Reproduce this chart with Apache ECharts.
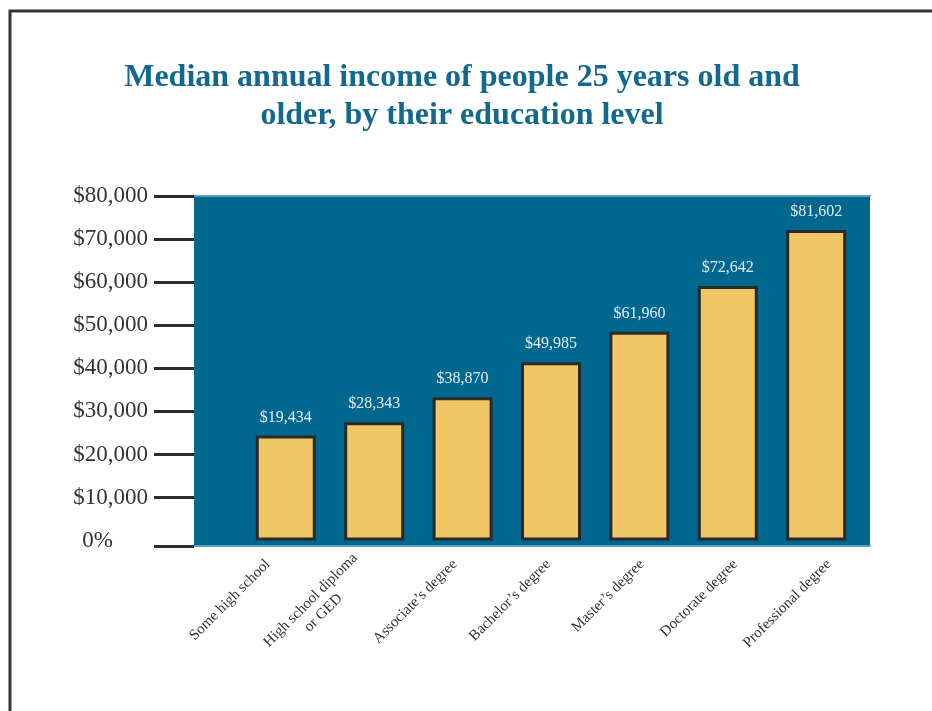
<!DOCTYPE html>
<html>
<head>
<meta charset="utf-8">
<script src="https://cdn.jsdelivr.net/npm/echarts@6/dist/echarts.min.js"></script>
<style>
html,body{margin:0;padding:0;background:#fff;}
#chart{width:932px;height:711px;}
</style>
</head>
<body>
<div id="chart"></div>
<script>
// ---- data ----
const categories = ['Some high school', 'High school diploma\nor GED', 'Associate’s degree', 'Bachelor’s degree', 'Master’s degree', 'Doctorate degree', 'Professional degree'];
// printed median incomes (labels above bars)
const medianIncome = [19434, 28343, 38870, 49985, 61960, 72642, 81602];
// bar heights as drawn against the axis of the picture
const barHeights = [24400, 27500, 33300, 41400, 48500, 59100, 72100];
// y-axis ticks (bottom tick is the "0%" baseline)
const yTickValues = [-1250, 10000, 20000, 30000, 40000, 50000, 60000, 70000, 80000];
const yTickLabels = ['0%', '$10,000', '$20,000', '$30,000', '$40,000', '$50,000', '$60,000', '$70,000', '$80,000'];
const yMin = -1250, yMax = 80000;

const serif = '"Liberation Serif", "Times New Roman", serif';
const fmtMoney = v => '$' + v.toLocaleString('en-US');

const chart = echarts.init(document.getElementById('chart'), null, {renderer: 'canvas'});
const gridTop = 196, gridH = 350;

chart.setOption({
  backgroundColor: '#ffffff',
  animation: false,
  title: {
    text: 'Median annual income of people 25 years old and\nolder, by their education level',
    left: 462,
    textAlign: 'center',
    top: 59,
    padding: 0,
    textStyle: {fontFamily: serif, fontWeight: 'bold', fontSize: 32, color: '#13698d', lineHeight: 38}
  },
  graphic: [{
    type: 'rect', silent: true,
    shape: {x: 10, y: 11, width: 1000, height: 800},
    style: {fill: 'none', stroke: '#333333', lineWidth: 3}
  }],
  grid: [
    {left: 194, top: gridTop, width: 676, height: gridH, show: true, backgroundColor: '#00678e', borderWidth: 0},
    {left: 241.6, top: gridTop, width: 618.8, height: gridH},
    {left: 268, top: gridTop, width: 561, height: gridH}
  ],
  xAxis: [
    {gridIndex: 0, type: 'category', data: categories, position: 'bottom',
     axisLine: {show: true, onZero: false, lineStyle: {color: '#5a9fbf', width: 2}}, axisTick: {show: false}, axisLabel: {show: false}},
    {gridIndex: 0, type: 'category', data: categories, position: 'top',
     axisLine: {show: true, onZero: false, lineStyle: {color: '#5a9fbf', width: 2}}, axisTick: {show: false}, axisLabel: {show: false}},
    {gridIndex: 1, type: 'category', data: categories, boundaryGap: true, show: false},
    {gridIndex: 2, type: 'category', data: categories, boundaryGap: false, position: 'bottom',
     axisLine: {show: false, onZero: false}, axisTick: {show: false},
     axisLabel: {
       interval: 0, rotate: 45, margin: 16,
       fontFamily: serif, fontSize: 15, color: '#333333',
       formatter: v => v.split('\n').map(s => '{c|' + s + '}').join('\n'),
       rich: {c: {align: 'center', fontFamily: serif, fontSize: 15, color: '#333333', lineHeight: 18}}
     }}
  ],
  yAxis: [
    {gridIndex: 0, type: 'value', min: yMin, max: yMax,
     axisLine: {show: false},
     splitLine: {show: false},
     axisTick: {show: true, length: 40, customValues: yTickValues, lineStyle: {color: '#2b2b2b', width: 3}},
     axisLabel: {
       customValues: yTickValues, margin: 46,
       fontFamily: serif, fontSize: 23, color: '#333333',
       formatter: v => {
         const i = yTickValues.indexOf(v);
         const t = i >= 0 ? yTickLabels[i] : '';
         return v === yMin ? '{z|' + t + '}' : t;
       },
       rich: {z: {fontFamily: serif, fontSize: 23, color: '#333333', padding: [0, 35, 10, 0]}}
     }},
    {gridIndex: 1, type: 'value', min: yMin, max: yMax, show: false},
    {gridIndex: 2, type: 'value', min: yMin, max: yMax, show: false}
  ],
  series: [{
    type: 'bar',
    xAxisIndex: 2, yAxisIndex: 1,
    data: barHeights,
    barWidth: 60,
    itemStyle: {color: '#f1c766', borderColor: '#2a2a2a', borderWidth: 3},
    label: {
      show: true, position: 'top', distance: 10,
      fontFamily: serif, fontSize: 16, color: '#e4edf2',
      formatter: p => fmtMoney(medianIncome[p.dataIndex])
    }
  }]
});
</script>
</body>
</html>
